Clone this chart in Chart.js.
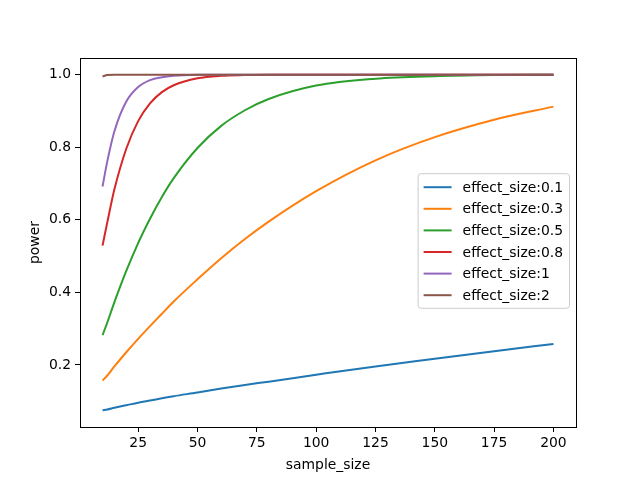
<!DOCTYPE html>
<html>
<head>
<meta charset="utf-8">
<script src="https://cdn.jsdelivr.net/npm/chart.js@4"></script>
<style>
  body { margin: 0; background: #fff; }
  canvas { display: block; }
</style>
</head>
<body>
<canvas id="power-chart" width="640" height="480"></canvas>
<script>
const sampleSizes = [10, 12, 15, 20, 25, 30, 35, 40, 50, 60, 70, 80, 100, 125, 150, 175, 200];

// power values for each effect size
const power01 = [0.075, 0.077, 0.082, 0.089, 0.096, 0.102, 0.108, 0.114, 0.124, 0.135, 0.145, 0.154, 0.173, 0.196, 0.217, 0.238, 0.258];
const power03 = [0.157, 0.171, 0.196, 0.235, 0.272, 0.307, 0.341, 0.375, 0.436, 0.494, 0.547, 0.595, 0.679, 0.764, 0.828, 0.876, 0.912];
const power05 = [0.282, 0.317, 0.373, 0.459, 0.536, 0.603, 0.663, 0.715, 0.798, 0.859, 0.902, 0.933, 0.970, 0.989, 0.996, 0.999, 1.0];
const power08 = [0.529, 0.593, 0.684, 0.796, 0.872, 0.921, 0.952, 0.971, 0.990, 0.997, 0.999, 1.0, 1.0, 1.0, 1.0, 1.0, 1.0];
const power1 = [0.692, 0.761, 0.844, 0.926, 0.966, 0.985, 0.993, 0.997, 0.9996, 1.0, 1.0, 1.0, 1.0, 1.0, 1.0, 1.0, 1.0];
const power2 = [0.995, 0.999, 1.0, 1.0, 1.0, 1.0, 1.0, 1.0, 1.0, 1.0, 1.0, 1.0, 1.0, 1.0, 1.0, 1.0, 1.0];

const seriesLabels = ['effect_size:0.1', 'effect_size:0.3', 'effect_size:0.5', 'effect_size:0.8', 'effect_size:1', 'effect_size:2'];
const seriesValues = [power01, power03, power05, power08, power1, power2];
const seriesColors = ['#1f77b4', '#ff7f0e', '#2ca02c', '#d62728', '#9467bd', '#8c564b'];

const xTicks = [25, 50, 75, 100, 125, 150, 175, 200];
const yTicks = [0.2, 0.4, 0.6, 0.8, 1.0];

Chart.defaults.font.family = 'DejaVu Sans';
Chart.defaults.font.size = 13.9;
Chart.defaults.color = '#000';

// full box around the plot + matplotlib style legend
const framePlugin = {
    id: 'frame',
    afterDraw(chart) {
        const ctx = chart.ctx;
        const a = chart.chartArea;
        ctx.save();
        ctx.strokeStyle = '#000';
        ctx.lineWidth = 1;
        ctx.strokeRect(Math.round(a.left) + 0.5, Math.round(a.top) + 0.5,
            Math.round(a.right - a.left), Math.round(a.bottom - a.top));

        // legend, center right
        ctx.font = '13.9px "DejaVu Sans"';
        const sets = chart.data.datasets;
        let textW = 0;
        sets.forEach(d => { textW = Math.max(textW, ctx.measureText(d.label).width); });
        const rowH = 21.6;
        const boxW = 6 + 28 + 11 + textW + 6;
        const boxH = sets.length * rowH + 5;
        const bx = a.right - 7 - boxW;
        const by = (a.top + a.bottom) / 2 - boxH / 2 - 2;
        ctx.beginPath();
        ctx.roundRect(bx + 0.5, by + 0.5, boxW, boxH, 3);
        ctx.fillStyle = 'rgba(255,255,255,0.8)';
        ctx.fill();
        ctx.strokeStyle = '#cccccc';
        ctx.stroke();
        ctx.textBaseline = 'middle';
        ctx.textAlign = 'left';
        sets.forEach((d, i) => {
            const y = by + 14 + i * rowH;
            ctx.beginPath();
            ctx.moveTo(bx + 6, y);
            ctx.lineTo(bx + 34, y);
            ctx.strokeStyle = d.borderColor;
            ctx.lineWidth = 2;
            ctx.stroke();
            ctx.fillStyle = '#000';
            ctx.fillText(d.label, bx + 45, y + 1);
        });
        ctx.restore();
    }
};

const datasets = seriesLabels.map((label, i) => ({
    label: label,
    data: sampleSizes.map((n, j) => ({ x: n, y: seriesValues[i][j] })),
    borderColor: seriesColors[i],
    backgroundColor: seriesColors[i],
    borderWidth: 2,
    pointRadius: 0,
    cubicInterpolationMode: 'monotone',
    order: seriesLabels.length - 1 - i
}));

const ctxPower = document.getElementById('power-chart').getContext('2d');
new Chart(ctxPower, {
    type: 'line',
    data: { datasets: datasets },
    plugins: [framePlugin],
    options: {
        responsive: false,
        animation: false,
        layout: { padding: { left: 0, top: 58, right: 64, bottom: 0 } },
        plugins: { legend: { display: false }, tooltip: { enabled: false } },
        scales: {
            x: {
                type: 'linear',
                min: 0.5,
                max: 209.5,
                afterBuildTicks: s => { s.ticks = xTicks.map(v => ({ value: v })); },
                afterFit: s => { s.height = 53; },
                grid: { drawOnChartArea: false, tickLength: 5, tickColor: '#000' },
                border: { color: '#000' },
                ticks: { padding: 3, maxRotation: 0 },
                title: { display: true, text: 'sample_size', padding: { top: 2, bottom: 6 } }
            },
            y: {
                type: 'linear',
                min: 0.029,
                max: 1.046,
                afterBuildTicks: s => { s.ticks = yTicks.map(v => ({ value: v })); },
                afterFit: s => { s.width = 80; },
                grid: { drawOnChartArea: false, tickLength: 5, tickColor: '#000' },
                border: { color: '#000' },
                ticks: { padding: 4, callback: v => v.toFixed(1) },
                title: { display: true, text: 'power', padding: { top: 27, bottom: 4 } }
            }
        }
    }
});
</script>
</body>
</html>
